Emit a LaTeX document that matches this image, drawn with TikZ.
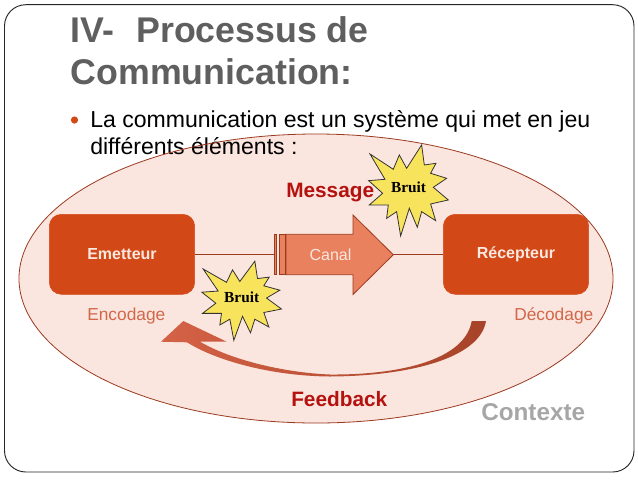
\documentclass[tikz,border=0pt]{standalone}
\usepackage{fontspec}
\setmainfont{Liberation Sans}
\newfontfamily\bruitfont{Liberation Serif}
\usetikzlibrary{shapes.geometric,shapes.arrows}
\definecolor{orng}{HTML}{D34817}
\definecolor{edge}{HTML}{9C3A20}
\definecolor{pale}{HTML}{FAE6DF}
\definecolor{canalc}{HTML}{E9805E}
\definecolor{titlec}{HTML}{5F5F5F}
\definecolor{redt}{HTML}{B5120F}
\definecolor{labelc}{HTML}{D2674A}
\definecolor{ctx}{HTML}{A6A6A6}
\definecolor{stary}{HTML}{F8E45C}
\definecolor{softw}{HTML}{FBE8E0}
\tikzset{
  px/.style={x=0.75pt,y=-0.75pt},
  txt/.style={inner sep=0pt,anchor=base west,text=black,font=\fontsize{17.3pt}{20pt}\selectfont},
  titletxt/.style={inner sep=0pt,anchor=base west,text=titlec,font=\fontsize{26.8pt}{30pt}\selectfont\bfseries},
  agent/.style={rounded corners=9pt,fill=orng,draw=orng,minimum width=109pt,minimum height=60pt,inner sep=0pt,text=softw,font=\fontsize{12pt}{14pt}\selectfont\bfseries},
  link/.style={draw=edge,line width=0.7pt},
  bar/.style={draw=edge,fill=canalc,line width=0.7pt},
  noiselabel/.style={inner sep=0pt,font=\bruitfont\fontsize{11.5pt}{13pt}\selectfont\bfseries},
  noisestar/.style={draw=black!80,fill=stary,line width=0.6pt},
  redlabel/.style={inner sep=0pt,text=redt,font=\fontsize{15.6pt}{18pt}\selectfont\bfseries},
  codelabel/.style={inner sep=0pt,text=labelc,font=\fontsize{13pt}{15pt}\selectfont},
}
\newcommand{\noiseshape}{(40,-127) (48,-67) (83,-72) (67,-42) (115,-27) (75,0) (120,38) (67,50) (82,100) (40,73) (27,120) (3,63) (-23,146) (-35,73) (-65,93) (-60,53) (-117,53) (-77,18) (-119,-20) (-70,-24) (-115,-100) (-45,-54) (-27,-97) (-5,-57)}
\begin{document}
\begin{tikzpicture}[px]
\useasboundingbox (0,0) rectangle (638,479);
\fill[white] (0,0) rectangle (638,479);
\draw[black!85,line width=0.7pt,rounded corners=16pt] (4.5,4.7) rectangle (634,472);
\fill[pale] (316,278.5) ellipse (297 and 144.5);
\node[titletxt] (t1) at (70.5,42) {IV-\ \ \kern1.5pt Processus de};
\node[titletxt] (t2) at (70.5,84) {Communication:};
\fill[orng] (74.5,120) circle (3.6);
\node[txt] (b1) at (90,127) {La communication est un système qui met en jeu};
\node[txt] (b2) at (90,154) {différents éléments :};
\draw[edge,line width=0.6pt] (316,278.5) ellipse (297 and 144.5);
\node[agent] (em) at (122,254.3) {Emetteur};
\node[agent] (re) at (516,254.3) {Récepteur};
\draw[draw=edge,fill=canalc,line width=0.6pt] (286,234.3) -- (353,234.3) -- (353,215) -- (393.3,254.7) coordinate (catip) -- (353,294.5) -- (353,274.7) -- (286,274.7) -- cycle;
\coordinate (cabase) at (286,254.7);
\node[inner sep=0pt,text=softw,font=\fontsize{12pt}{14pt}\selectfont] (catxt) at (330.5,255) {Canal};
\draw[bar] (274,234.3) rectangle (276.8,274.7);
\draw[bar] (279.3,234.3) rectangle (285,274.7);
\coordinate (barleft) at (274,254.7);
\coordinate (barright) at (285,254.7);
\draw[link] (em.east |- barleft) -- (barleft);
\draw[link] (barright) -- (cabase);
\draw[link] (catip) -- (re.west |- catip);
% noise stars
\begin{scope}[shift={(408.3,187.3)},scale=0.3333]
\draw[noisestar] plot coordinates {\noiseshape} -- cycle;
\end{scope}
\node[noiselabel] (n1) at (408.5,187) {Bruit};
\begin{scope}[shift={(241.5,298)},xscale=0.3333,yscale=0.29]
\draw[noisestar] plot coordinates {\noiseshape} -- cycle;
\end{scope}
\node[noiselabel] (n2) at (241.7,297) {Bruit};
% feedback arrow
\shade[left color=labelc!95!red,right color=edge!80!labelc]
 (161,341.7) -- (183.3,321) -- (226.7,341.7) -- (200,341.7)
 .. controls (235,362) and (290,373) .. (330,374.5)
 .. controls (400,375) and (465,360) .. (471.7,321)
 -- (486,321)
 .. controls (480,358) and (410,376) .. (330,376.5)
 .. controls (270,376) and (215,360) .. (187,342.3) -- cycle;
\node[redlabel,anchor=base west] (msg) at (286,197) {Message};
\node[redlabel,anchor=base west] (fb) at (291,406) {Feedback};
\node[codelabel,anchor=base west] (enc) at (87,320) {Encodage};
\node[codelabel,anchor=base west] (dec) at (514,320) {Décodage};
\node[inner sep=0pt,anchor=base west,text=ctx,font=\fontsize{18.2pt}{20pt}\selectfont\bfseries] (ctxl) at (481,420) {Contexte};
\end{tikzpicture}
\end{document}
